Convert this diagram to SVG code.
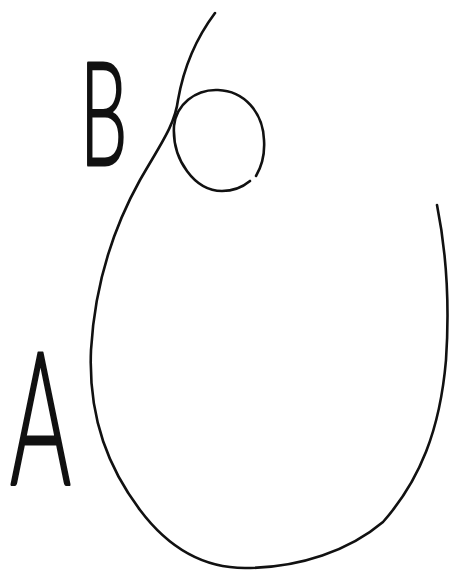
<svg xmlns="http://www.w3.org/2000/svg" width="452" height="571" viewBox="0 0 452 571">
<style>
.ln{fill:none;stroke:#111;stroke-width:2.6;stroke-linecap:round;stroke-linejoin:round}
.lbl{font-family:"Lato","Liberation Sans",sans-serif;font-weight:300;fill:#111;stroke:#111;stroke-width:3;stroke-linejoin:round}
</style>
<rect width="452" height="571" fill="#fff"/>
<g id="curveA">
<path class="ln" d="M215,13 C200,33 185,60 178,100 C175,125 160,145 140,180 C115,225 95,280 91,350 C88,420 110,470 140,510 C170,550 205,568 245,568 C300,568 350,550 383,522 C420,480 440,430 446,360 C450,300 446,250 437,205"/>
</g>
<g id="circleB">
<path class="ln" d="M256,176 C262,166 265,155 264,140 C263,112 244,91 218,90 C195,89 176,105 174,126 C172,160 195,191 222,191 C235,191 244,186 250,181"/>
</g>
<g id="labelA">
<text class="lbl" font-size="186" transform="translate(10,485) scale(0.5,1)">A</text>
</g>
<g id="labelB">
<text class="lbl" font-size="144" transform="translate(80,165) scale(0.52,1)">B</text>
</g>
</svg>
